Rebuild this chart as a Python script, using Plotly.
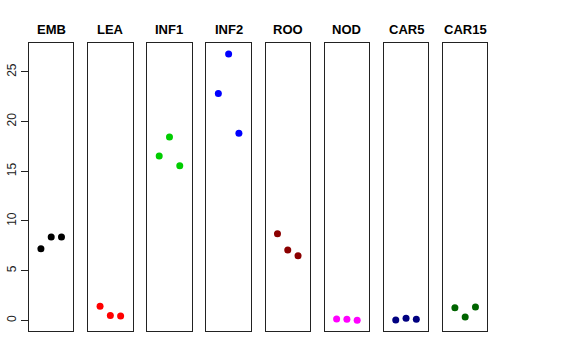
import plotly.graph_objects as go

groups = ["EMB", "LEA", "INF1", "INF2", "ROO", "NOD", "CAR5", "CAR15"]
colors = ["#000000", "#FF0000", "#00CD00", "#0000FF", "#8B0000", "#FF00FF", "#000080", "#006400"]
positions = [1, 2, 3]
values = [
    [7.2, 8.38, 8.38],
    [1.41, 0.5, 0.44],
    [16.55, 18.46, 15.55],
    [22.82, 26.81, 18.83],
    [8.71, 7.07, 6.5],
    [0.13, 0.1, 0.0],
    [0.03, 0.2, 0.1],
    [1.27, 0.34, 1.34],
]
y_ticks = [0, 5, 10, 15, 20, 25]

W, H = 576, 360
left0, step, pw = 29.0, 59.14, 44.4
top_px, bot_px = 43.3, 331.0
ymin, ymax = 0.0, max(max(v) for v in values)
ypad = (ymax - ymin) * 0.04
yrange = [ymin - ypad, ymax + ypad]
xrange = [0 - 0.16, 4 + 0.16]

fig = go.Figure()
layout = dict(width=W, height=H, margin=dict(l=0, r=0, t=0, b=0),
              paper_bgcolor="white", plot_bgcolor="white", showlegend=False,
              font=dict(family="Liberation Sans, Arial, sans-serif", size=12, color="black"))
annotations = []
for i, (g, c, v) in enumerate(zip(groups, colors, values)):
    sfx = "" if i == 0 else str(i + 1)
    fig.add_trace(go.Scatter(x=positions, y=v, mode="markers",
                             marker=dict(color=c, size=7, line=dict(width=0)),
                             xaxis="x" + sfx, yaxis="y" + sfx))
    l = (left0 + step * i) / W
    r = (left0 + step * i + pw) / W
    layout["xaxis" + sfx] = dict(domain=[l, r], range=xrange, showgrid=False, zeroline=False,
                                 showticklabels=False, ticks="", showline=True, mirror=True,
                                 linecolor="#222", linewidth=1, fixedrange=True)
    yax = dict(domain=[1 - bot_px / H, 1 - top_px / H], range=yrange, showgrid=False,
               zeroline=False, showline=True, mirror=True, linecolor="#222", linewidth=1,
               anchor="x" + sfx)
    if i == 0:
        yax.update(tickvals=y_ticks, ticktext=[str(t) for t in y_ticks], ticks="outside",
                   ticklen=7, tickcolor="#222", tickangle=-90,
                   tickfont=dict(size=12, color="#222"))
    else:
        yax.update(showticklabels=False, ticks="")
    layout["yaxis" + sfx] = yax
    annotations.append(dict(text="<b>%s</b>" % g, x=(l + r) / 2, y=1 - 29.5 / H,
                            xref="paper", yref="paper", showarrow=False,
                            xanchor="center", yanchor="middle",
                            font=dict(size=13, color="black")))
layout["annotations"] = annotations
fig.update_layout(**layout)
fig.write_html("out.html", config={"displayModeBar": False},
               post_script="document.body.style.margin='0';document.body.style.overflow='hidden';")
